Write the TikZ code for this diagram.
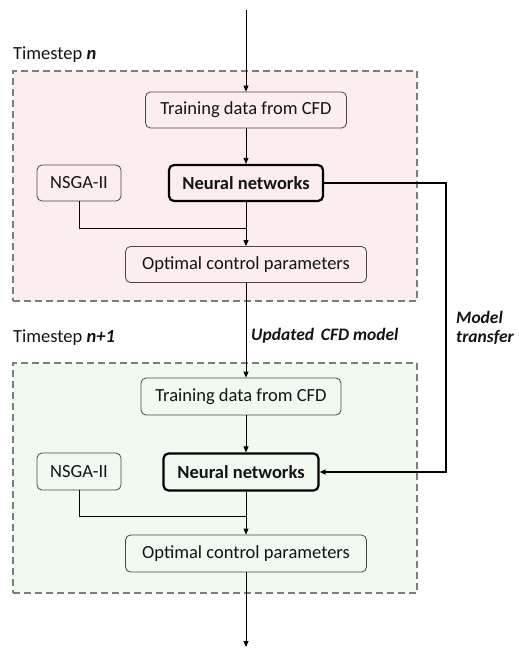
\documentclass[tikz,border=0pt]{standalone}
\usepackage{fontspec}
\setmainfont{Carlito}
\usetikzlibrary{arrows.meta}
\definecolor{pinkbg}{RGB}{252,238,238}
\definecolor{greenbg}{RGB}{240,250,240}
\definecolor{dashgray}{RGB}{125,125,125}
\definecolor{boxline}{RGB}{70,70,70}
\definecolor{txt}{RGB}{20,20,20}
\begin{document}
\begin{tikzpicture}[x=1pt,y=-1pt,
  every node/.style={text=txt},
  stagebox/.style={draw=dashgray, line width=1.1pt, dash pattern=on 7pt off 4pt},
  procbox/.style={draw=boxline, line width=0.8pt, rounded corners=5pt, inner sep=0pt, font=\fontsize{18.5}{22}\selectfont},
  nnbox/.style={draw=black, line width=2.2pt, rounded corners=5pt, inner sep=0pt, font=\fontsize{18.5}{22}\selectfont\bfseries},
  flow/.style={draw=black, line width=0.8pt, -{Triangle[length=6pt,width=5pt]}},
  plain/.style={draw=black, line width=0.8pt},
  lbl/.style={font=\fontsize{17.5}{19}\selectfont\bfseries\itshape, inner sep=0pt},
  stepl/.style={font=\fontsize{18.5}{22}\selectfont, inner sep=0pt, anchor=west}
]
\useasboundingbox (0,0) rectangle (519,648);
% stage backgrounds
\node[stagebox, fill=pinkbg, minimum width=404pt, minimum height=230pt, inner sep=0pt] (stage1) at (215,186) {};
\node[stagebox, fill=greenbg, minimum width=404pt, minimum height=230pt, inner sep=0pt] (stage2) at (215,478) {};
\node[stepl] (ts1) at (13,55) {Timestep \textbf{\textit{n}}};
\node[stepl] (ts2) at (13,338) {Timestep \textbf{\textit{n+1}}};
% stage 1
\node[procbox, fill=pinkbg, minimum width=201pt, minimum height=36pt] (train1) at (246,110) {Training data from CFD};
\node[procbox, fill=pinkbg, minimum width=84pt, minimum height=36pt] (nsga1) at (79,183) {NSGA-II};
\node[nnbox, fill=pinkbg, minimum width=154pt, minimum height=36pt] (nn1) at (246,183) {Neural networks};
\node[procbox, fill=pinkbg, minimum width=241pt, minimum height=36pt] (opt1) at (246,264.5) {Optimal control parameters};
% stage 2
\node[procbox, fill=greenbg, minimum width=200pt, minimum height=37pt] (train2) at (241,396.5) {Training data from CFD};
\node[procbox, fill=greenbg, minimum width=84pt, minimum height=37pt] (nsga2) at (79,471.5) {NSGA-II};
\node[nnbox, fill=greenbg, minimum width=155pt, minimum height=37pt] (nn2) at (241,472) {Neural networks};
\node[procbox, fill=greenbg, minimum width=241pt, minimum height=37pt] (opt2) at (246,553.5) {Optimal control parameters};
% labels
\node[lbl, anchor=west] (upd) at (251,336) {Updated\, CFD model};
\node[lbl, anchor=west, align=left] (mt) at (456,327.5) {Model\\transfer};
% connectors
\coordinate (start) at (246,10);
\coordinate (finish) at (246,647);
\coordinate (j1) at (246,228);
\coordinate (j2) at (246,516);
\draw[flow] (start) -- (train1.north);
\draw[flow] (train1.south) -- (nn1.north);
\draw[flow] (nn1.south) -- (opt1.north);
\draw[plain] (nsga1.south) |- (j1);
\draw[flow] (opt1.south) -- (opt1.south |- train2.north);
\draw[flow] (train2.south -| opt2.north) -- (nn2.north -| opt2.north);
\draw[flow] (nn2.south -| opt2.north) -- (opt2.north);
\draw[plain] (nsga2.south) |- (j2);
\draw[flow] (opt2.south) -- (finish);
\draw[flow, line width=1.6pt] (nn1.east) -- ++(122,0) |- (nn2.east);
\end{tikzpicture}
\end{document}
